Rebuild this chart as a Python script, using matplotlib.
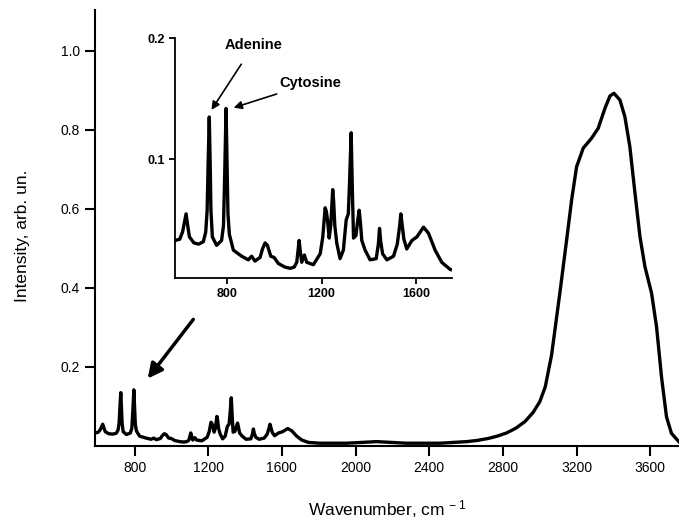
import matplotlib
matplotlib.use('Agg')
import matplotlib.pyplot as plt

plt.rcParams['font.family'] = ['Liberation Sans', 'DejaVu Sans']
plt.rcParams['mathtext.default'] = 'regular'

# spectrum (wavenumber, intensity)
wavenumber = [580, 600, 612, 620, 627, 634, 641, 660, 680, 700, 710, 716, 720, 725, 729,
              732, 738, 756, 777, 785, 790, 796, 800, 804, 810, 827,
              862, 890, 904, 918, 940, 950, 961, 971, 985, 999, 1017, 1045, 1067, 1084, 1095,
              1101, 1105, 1110, 1116, 1127, 1137, 1165, 1194, 1205, 1210, 1215, 1220, 1225,
              1232, 1239, 1244, 1247, 1251, 1256,
              1264, 1278, 1292, 1304, 1313, 1318, 1325, 1330, 1335, 1345, 1353, 1359, 1364,
              1370, 1384, 1405, 1431, 1440, 1445, 1450, 1458, 1476, 1504, 1520, 1530, 1535,
              1540, 1548, 1560, 1582, 1603, 1631, 1652, 1680,
              1708, 1744, 1806, 1951, 2114, 2277, 2458, 2603, 2660, 2720, 2770, 2820, 2870,
              2920, 2964, 3000, 3030, 3064, 3109, 3146, 3173, 3200, 3236, 3281, 3317, 3354,
              3381, 3403, 3435, 3462, 3489, 3517, 3544, 3571, 3607, 3634, 3661, 3688, 3715,
              3755]
intensity = [0.033, 0.034, 0.040, 0.048, 0.055, 0.045, 0.036, 0.031, 0.030, 0.032, 0.040,
             0.058, 0.095, 0.135, 0.095, 0.058, 0.036, 0.029, 0.033, 0.045, 0.085, 0.142,
             0.100, 0.055, 0.038, 0.025,
             0.020, 0.017, 0.020, 0.016, 0.019, 0.026, 0.031, 0.029, 0.020, 0.019, 0.014,
             0.011, 0.010, 0.011, 0.015, 0.026, 0.033, 0.024, 0.015, 0.021, 0.015, 0.013,
             0.022, 0.036, 0.048, 0.060, 0.057, 0.050, 0.035, 0.046, 0.065, 0.075, 0.065,
             0.045,
             0.031, 0.018, 0.025, 0.050, 0.055, 0.080, 0.122, 0.075, 0.035, 0.037, 0.050,
             0.058, 0.048, 0.033, 0.025, 0.017, 0.018, 0.030, 0.043, 0.032, 0.022, 0.017,
             0.020, 0.030, 0.045, 0.055, 0.047, 0.034, 0.026, 0.033, 0.036, 0.044, 0.039,
             0.025,
             0.015, 0.009, 0.007, 0.007, 0.011, 0.007, 0.007, 0.011, 0.014, 0.019, 0.025,
             0.033, 0.045, 0.062, 0.085, 0.112, 0.150, 0.230, 0.387, 0.522, 0.623, 0.707,
             0.754, 0.779, 0.804, 0.855, 0.886, 0.893, 0.876, 0.834, 0.758, 0.640, 0.530,
             0.454, 0.387, 0.302, 0.175, 0.074, 0.032, 0.011]

main_xticks = [800, 1200, 1600, 2000, 2400, 2800, 3200, 3600]
main_yticks = [0.2, 0.4, 0.6, 0.8, 1.0]
inset_xticks = [800, 1200, 1600]
inset_yticks = [0.1, 0.2]

fig = plt.figure(figsize=(6.79, 5.21), dpi=100)
ax = fig.add_axes([0.1399, 0.144, 0.8601, 0.837])
ax.plot(wavenumber, intensity, color='black', lw=2.4, solid_joinstyle='round')
ax.set_xlim(585, 3756)
ax.set_ylim(0, 1.104)
ax.set_xticks(main_xticks)
ax.set_yticks(main_yticks)
ax.set_yticklabels([f'{v:.1f}' for v in main_yticks])
for side in ['top', 'right']:
    ax.spines[side].set_visible(False)
for side in ['left', 'bottom']:
    ax.spines[side].set_linewidth(1.5)
ax.tick_params(direction='out', length=7, width=1.5, labelsize=10, pad=4)
ax.set_ylabel('Intensity, arb. un.', fontsize=12.5)
ax.yaxis.set_label_coords(-0.111, 0.482)
ax.set_xlabel('Wavenumber, cm$^{\\,-1}$', fontsize=12.5, va='top')
ax.xaxis.set_label_coords(0.5, -0.12)
ax.annotate('', xy=(862, 0.165), xytext=(1128, 0.326),
            arrowprops=dict(arrowstyle='-|>', lw=2.5, color='black', mutation_scale=22))

# inset: zoom on the fingerprint region
ins = fig.add_axes([0.2577, 0.4664, 0.4075, 0.460])
ins.plot(wavenumber, intensity, color='black', lw=2.4, solid_joinstyle='round')
ins.set_xlim(580, 1750)
ins.set_ylim(0.002, 0.2)
ins.set_xticks(inset_xticks)
ins.set_yticks(inset_yticks)
ins.set_yticklabels([f'{v:.1f}' for v in inset_yticks])
for side in ['top', 'right']:
    ins.spines[side].set_visible(False)
for side in ['left', 'bottom']:
    ins.spines[side].set_linewidth(1.3)
ins.tick_params(direction='out', length=4, width=1.3, labelsize=9, pad=3)
for lab in ins.get_xticklabels() + ins.get_yticklabels():
    lab.set_fontweight('bold')
ins.annotate('Adenine', xy=(728, 0.139), xytext=(913, 0.1944), ha='center', va='center',
             fontsize=10.5, fontweight='bold',
             arrowprops=dict(arrowstyle='-|>', lw=1.2, color='black', mutation_scale=12,
                             shrinkA=8))
ins.annotate('Cytosine', xy=(817, 0.142), xytext=(1020, 0.1628), ha='left', va='center',
             fontsize=10.5, fontweight='bold',
             arrowprops=dict(arrowstyle='-|>', lw=1.2, color='black', mutation_scale=12,
                             shrinkA=2))

fig.savefig('out.png', dpi=100)
